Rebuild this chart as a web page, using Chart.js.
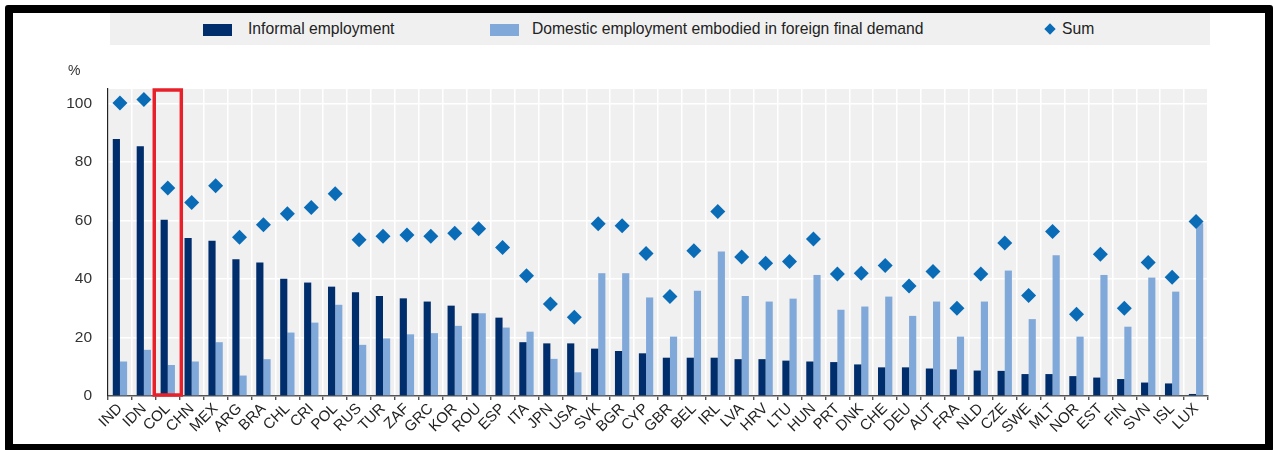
<!DOCTYPE html>
<html>
<head>
<meta charset="utf-8">
<title>Informal employment and domestic employment embodied in foreign final demand</title>
<script src="https://cdn.jsdelivr.net/npm/chart.js@4.4.1/dist/chart.umd.min.js"></script>
<style>
    html, body { margin: 0; padding: 0; background: #fff; }
    body { width: 1274px; height: 450px; position: relative; overflow: hidden; font-family: 'Liberation Sans', Arial, sans-serif; }
    #frame { position: absolute; left: 5px; top: 5px; width: 1252px; height: 431px; border: 8px solid #000; border-radius: 3px; pointer-events: none; }
    #legend { position: absolute; left: 110px; top: 13px; width: 1100px; height: 32px; background: #f0f0f0; font-size: 15.7px; color: #222; }
    .item { position: absolute; top: 0; height: 32px; line-height: 32px; white-space: nowrap; }
    .box { position: absolute; top: 11px; width: 29px; height: 12px; }
    .diamond { position: absolute; top: 12px; width: 8px; height: 8px; background: #0a6cb6; transform: rotate(45deg); }
    #unit { position: absolute; left: 68px; top: 62px; font-size: 14px; color: #333; }
    #wrap { position: absolute; left: 0; top: 0; width: 1274px; height: 450px; }
</style>
</head>
<body>
<div id="wrap"><canvas id="chart"></canvas></div>
<div id="legend">
    <div class="item" style="left:93px"><span class="box" style="background:#002d6b"></span><span style="margin-left:45px">Informal employment</span></div>
    <div class="item" style="left:380px"><span class="box" style="background:#80a9da"></span><span style="margin-left:42px">Domestic employment embodied in foreign final demand</span></div>
    <div class="item" style="left:936px"><span class="diamond" style="left:0"></span><span style="margin-left:16px">Sum</span></div>
</div>
<div id="unit">%</div>
<div id="frame"></div>
<script>
// Country codes, in the order shown
const countries = ['IND', 'IDN', 'COL', 'CHN', 'MEX', 'ARG', 'BRA', 'CHL', 'CRI', 'POL',
    'RUS', 'TUR', 'ZAF', 'GRC', 'KOR', 'ROU', 'ESP', 'ITA', 'JPN', 'USA',
    'SVK', 'BGR', 'CYP', 'GBR', 'BEL', 'IRL', 'LVA', 'HRV', 'LTU', 'HUN',
    'PRT', 'DNK', 'CHE', 'DEU', 'AUT', 'FRA', 'NLD', 'CZE', 'SWE', 'MLT',
    'NOR', 'EST', 'FIN', 'SVN', 'ISL', 'LUX'];

// Informal employment (%)
const informal = [87.9, 85.4, 60.3, 54.0, 53.1, 46.8, 45.7, 40.1, 38.8, 37.4,
    35.5, 34.2, 33.4, 32.3, 30.9, 28.3, 26.8, 18.4, 18.0, 18.0,
    16.2, 15.4, 14.6, 13.1, 13.1, 13.1, 12.6, 12.6, 12.1, 11.8,
    11.6, 10.8, 9.8, 9.8, 9.4, 9.1, 8.7, 8.6, 7.5, 7.5,
    6.8, 6.3, 5.8, 4.6, 4.3, 0.7];

// Domestic employment embodied in foreign final demand (%)
const foreignDemand = [11.8, 15.8, 10.6, 11.8, 18.4, 7.0, 12.6, 21.7, 25.1, 31.2,
    17.5, 19.7, 21.1, 21.5, 24.0, 28.3, 23.4, 22.0, 12.7, 8.1,
    42.0, 42.0, 33.7, 20.3, 36.0, 49.4, 34.2, 32.3, 33.3, 41.4,
    29.5, 30.6, 34.0, 27.4, 32.3, 20.3, 32.3, 42.9, 26.3, 48.1,
    20.3, 41.4, 23.7, 40.5, 35.7, 59.1];

// Sum of both (%)
const sumValues = [100.2, 101.4, 71.1, 66.2, 71.9, 54.3, 58.6, 62.3, 64.5, 69.2,
    53.4, 54.6, 55.1, 54.6, 55.7, 57.2, 50.8, 41.1, 31.5, 26.9,
    58.9, 58.2, 48.7, 34.0, 49.7, 63.1, 47.5, 45.4, 46.0, 53.7,
    41.7, 42.0, 44.6, 37.6, 42.6, 30.0, 41.7, 52.3, 34.4, 56.3,
    28.0, 48.5, 30.0, 45.7, 40.6, 59.7];

const yTicks = [0, 20, 40, 60, 80, 100];
const highlighted = 'COL';

const FONT = "'Liberation Sans', Arial, sans-serif";

/**
 * Grey plot background, drawn before the grid
 */
const plotBackground = {
    id: 'plotBackground',
    beforeDraw(chart) {
        const { ctx, chartArea } = chart;
        ctx.save();
        ctx.fillStyle = '#f0f0f0';
        ctx.fillRect(chartArea.left, chartArea.top, chartArea.right - chartArea.left, chartArea.bottom - chartArea.top);
        ctx.restore();
    }
};

/**
 * Red box around the highlighted country
 */
const highlightBox = {
    id: 'highlightBox',
    afterDatasetsDraw(chart) {
        const { ctx, chartArea, scales } = chart;
        const idx = countries.indexOf(highlighted);
        if (idx < 0) return;
        const cx = scales.x.getPixelForValue(idx);
        const half = 13.5;
        ctx.save();
        ctx.strokeStyle = '#e8202a';
        ctx.lineWidth = 3.5;
        ctx.strokeRect(cx - half, chartArea.top + 1, half * 2, chartArea.bottom - chartArea.top - 2);
        ctx.restore();
    }
};

function buildChart() {
    const ctx = document.getElementById('chart');
    return new Chart(ctx, {
        type: 'bar',
        data: {
            labels: countries,
            datasets: [
                {
                    type: 'line',
                    label: 'Sum',
                    data: sumValues,
                    showLine: false,
                    pointStyle: 'rectRot',
                    pointRadius: 7.5,
                    pointBackgroundColor: '#0a6cb6',
                    pointBorderColor: '#0a6cb6',
                    pointBorderWidth: 0,
                    order: 0
                },
                {
                    label: 'Informal employment',
                    data: informal,
                    backgroundColor: '#002d6b',
                    categoryPercentage: 0.6,
                    barPercentage: 1.0,
                    order: 1
                },
                {
                    label: 'Domestic employment embodied in foreign final demand',
                    data: foreignDemand,
                    backgroundColor: '#80a9da',
                    categoryPercentage: 0.6,
                    barPercentage: 1.0,
                    order: 1
                }
            ]
        },
        options: {
            responsive: true,
            maintainAspectRatio: false,
            animation: false,
            layout: { padding: { top: 89, right: 66, bottom: 0, left: 0 } },
            plugins: {
                legend: { display: false },
                tooltip: { enabled: false }
            },
            scales: {
                x: {
                    offset: true,
                    grid: {
                        offset: true,
                        color: '#ffffff',
                        lineWidth: 1.5,
                        tickLength: 4,
                        tickColor: '#333333',
                        tickWidth: 1.2
                    },
                    border: { color: '#555555', width: 1.5 },
                    ticks: {
                        autoSkip: false,
                        maxRotation: 45,
                        minRotation: 45,
                        padding: 0,
                        color: '#222222',
                        font: { family: FONT, size: 15 }
                    },
                    afterFit(scale) { scale.height = 54; }
                },
                y: {
                    min: 0,
                    max: 105,
                    afterBuildTicks(scale) {
                        scale.ticks = yTicks.map(v => ({ value: v }));
                    },
                    grid: { color: '#ffffff', lineWidth: 1.5, drawTicks: false },
                    border: { color: '#222222', width: 1.2 },
                    ticks: {
                        padding: 16,
                        color: '#333333',
                        font: { family: FONT, size: 15.5 }
                    },
                    afterFit(scale) { scale.width = 108; }
                }
            }
        },
        plugins: [plotBackground, highlightBox]
    });
}

document.addEventListener('DOMContentLoaded', buildChart);
</script>
</body>
</html>
